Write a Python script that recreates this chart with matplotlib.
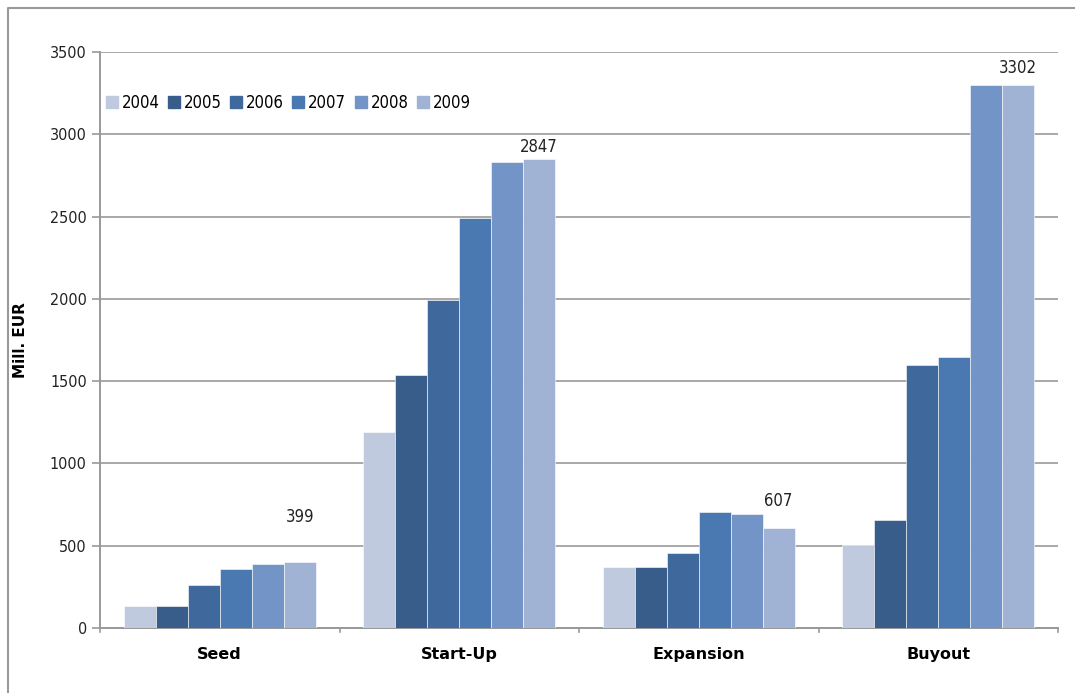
import matplotlib
matplotlib.use('Agg')
import matplotlib.pyplot as plt
from matplotlib.lines import Line2D
import numpy as np

plt.rcParams['font.family'] = ['DejaVu Sans']
plt.rcParams['font.stretch'] = 'condensed'

categories = ['Seed', 'Start-Up', 'Expansion', 'Buyout']
years = ['2004', '2005', '2006', '2007', '2008', '2009']

# Mill. EUR per stage, one list per year
v2004 = [134, 1191, 371, 504]
v2005 = [134, 1537, 371, 656]
v2006 = [261, 1993, 456, 1598]
v2007 = [358, 2491, 705, 1646]
v2008 = [389, 2831, 693, 3302]
v2009 = [399, 2847, 607, 3302]
series = [v2004, v2005, v2006, v2007, v2008, v2009]

colors = ['#C0CADF', '#385D8A', '#3F699D', '#4A78B0', '#7294C6', '#A1B3D4']

# labelled values: (category index, value, label height)
label_cat = [0, 1, 2, 3]
label_val = [399, 2847, 607, 3302]
label_y = [620, 2870, 720, 3350]

fig = plt.figure(figsize=(10.75, 6.93), dpi=100)
ax = fig.add_axes([100 / 1075, 65 / 693, 958 / 1075, 576 / 693])

x = np.arange(len(categories))
n = len(series)
w = 0.8 / n
for i, (vals, c) in enumerate(zip(series, colors)):
    ax.bar(x - 0.4 + w * (i + 0.5), vals, width=w, color=c,
           edgecolor='white', linewidth=0.4, zorder=3)

for ci, v, ly in zip(label_cat, label_val, label_y):
    ax.text(ci - 0.4 + w * 5.5, ly, str(v), ha='center', va='bottom',
            fontsize=12, color='#222222')

ax.set_xlim(-0.5, len(categories) - 0.5)
ax.set_ylim(0, 3500)
ax.set_yticks(np.arange(0, 3501, 500))
ax.yaxis.grid(True, color='#999999', linewidth=1.2, zorder=0)
ax.tick_params(axis='y', labelsize=11.5, length=6, color='#999999', width=1.2,
               labelcolor='#222222')

ax.set_xticks(x)
ax.set_xticklabels(categories, fontweight='bold', fontsize=11.5,
                   fontstretch='normal')
ax.tick_params(axis='x', length=0, pad=14)
for b in np.arange(-0.5, len(categories), 1.0):
    ax.plot([b, b], [0, -25], color='#999999', lw=1.2, clip_on=False)

for s in ['top', 'right']:
    ax.spines[s].set_visible(False)
for s in ['left', 'bottom']:
    ax.spines[s].set_color('#999999')
    ax.spines[s].set_linewidth(1.4)

ax.set_ylabel('Mill. EUR', fontweight='bold', fontsize=11,
              fontstretch='normal', labelpad=16)

handles = [Line2D([], [], marker='s', linestyle='none', markersize=8,
                  markerfacecolor=c, markeredgecolor=c) for c in colors]
ax.legend(handles, years, loc='upper left', bbox_to_anchor=(-0.01, 0.953),
          ncol=6, frameon=False, fontsize=12, handletextpad=0.2,
          columnspacing=0.45, handlelength=0.8)

# outer frame edges
fig.add_artist(Line2D([8 / 1075, 8 / 1075, 1.0], [0.0, 1 - 8 / 693, 1 - 8 / 693],
                      color='#999999', lw=1.5, transform=fig.transFigure))

fig.savefig('out.png', dpi=100)
